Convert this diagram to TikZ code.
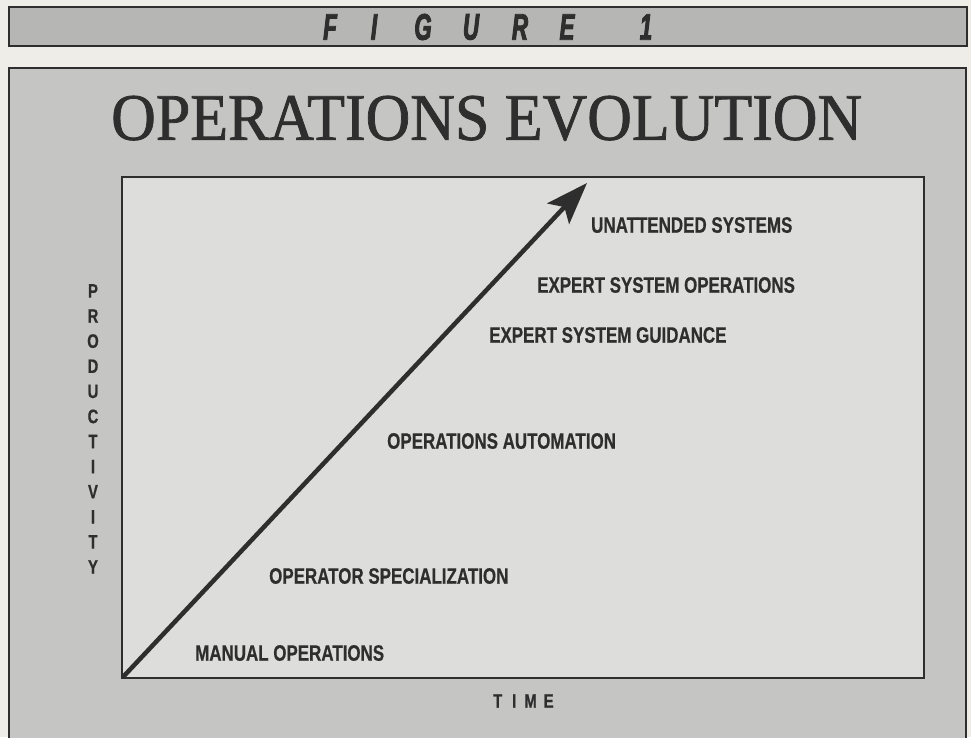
\documentclass[tikz,border=0pt]{standalone}
\usepackage{fontspec}
\usetikzlibrary{arrows.meta}
\setmainfont{Liberation Serif}
\newfontfamily\ttlfont{Liberation Serif}[FakeBold=1.2]
\newfontfamily\lblfont{Liberation Sans}[FakeStretch=0.76, FakeBold=0.6]
\newfontfamily\hdrfont{Liberation Sans}[FakeStretch=0.6, FakeBold=2.5]
\definecolor{paper}{HTML}{EEEDE8}
\definecolor{barfill}{HTML}{B6B6B4}
\definecolor{panelfill}{HTML}{C5C5C3}
\definecolor{plotfill}{HTML}{DDDDDB}
\definecolor{ink}{HTML}{2E2E2E}
\begin{document}
\begin{tikzpicture}[x=1pt,y=-1pt,
  lbl/.style={anchor=west, inner sep=0pt, text=ink,
    font=\lblfont\bfseries\fontsize{22.3}{24}\selectfont},
  hdr/.style={inner sep=0pt, text=ink,
    font=\hdrfont\bfseries\itshape\fontsize{37}{38}\selectfont},
  axlbl/.style={inner sep=0pt, text=ink,
    font=\lblfont\bfseries\fontsize{19.5}{25.1}\selectfont},
  frame/.style={draw=ink}]
\useasboundingbox (0,0) rectangle (971,737);
\fill[paper] (0,0) rectangle (971,737);
% header bar
\draw[frame, line width=1.8pt, fill=barfill] (9,7) rectangle (967,46);
\node[hdr] (hF) at (330,27) {F};
\node[hdr] (hI) at (374,27) {I};
\node[hdr] (hG) at (423,27) {G};
\node[hdr] (hU) at (471,27) {U};
\node[hdr] (hR) at (520,27) {R};
\node[hdr] (hE) at (567,27) {E};
\node[hdr] (h1) at (646,27) {1};
% panel
\draw[frame, line width=1.5pt, fill=panelfill] (9,68) rectangle (966,760);
\node[inner sep=0pt, text=ink, anchor=south west] (title) at (111,141)
  {\resizebox{751pt}{44pt}{\ttlfont OPERATIONS EVOLUTION}};
% plot area
\draw[frame, line width=2.5pt, fill=plotfill] (122,177) rectangle (924,678);
\coordinate (origin) at (123,677);
\coordinate (tip) at (587,183);
\draw[ink, line width=4.5pt, -{Stealth[length=42pt,width=30pt,inset=9pt]}] (origin) -- (tip);
% labels
\node[lbl] (unatt) at (591,225) {UNATTENDED SYSTEMS};
\node[lbl] (eso) at (537,285) {EXPERT SYSTEM OPERATIONS};
\node[lbl] (esg) at (489,335) {EXPERT SYSTEM GUIDANCE};
\node[lbl] (opauto) at (387,441) {OPERATIONS AUTOMATION};
\node[lbl] (opspec) at (269,576) {OPERATOR SPECIALIZATION};
\node[lbl] (manual) at (195,653) {MANUAL OPERATIONS};
% axis labels
\node[axlbl, anchor=north, align=center] (prod) at (93,284)
  {P\\R\\O\\D\\U\\C\\T\\I\\V\\I\\T\\Y};
\node[axlbl, anchor=west] (time) at (493,701) {T\hspace{10pt}I\hspace{8pt}M\hspace{7pt}E};
\end{tikzpicture}
\end{document}
